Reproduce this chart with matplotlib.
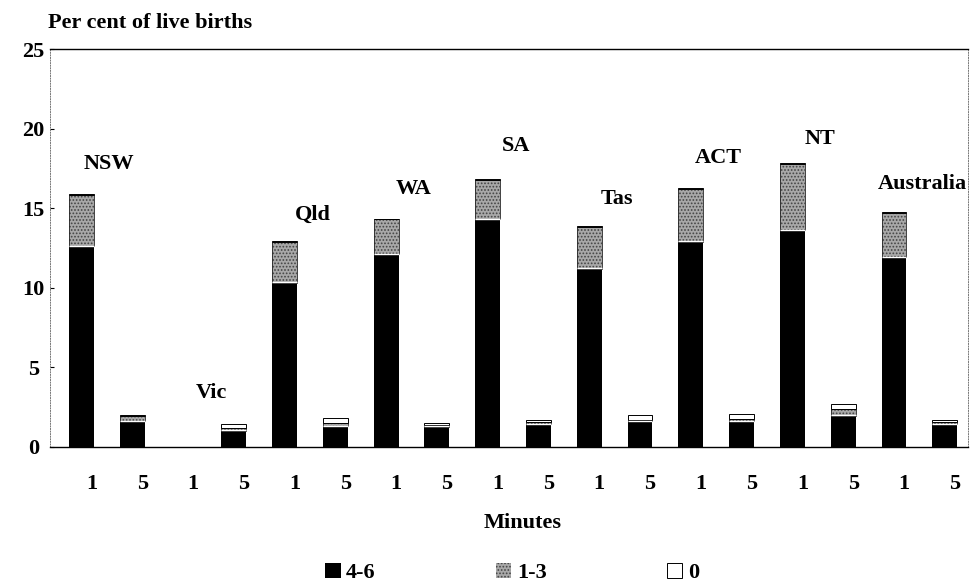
import matplotlib.pyplot as plt
import matplotlib.transforms as mtransforms
import numpy as np

# regions and Apgar score bands (per cent of live births)
regions = ['NSW', 'Vic', 'Qld', 'WA', 'SA', 'Tas', 'ACT', 'NT', 'Australia']
minutes = ['1', '5']

# order per region: 1 minute, 5 minutes
score_4_6 = [12.6, 1.6, 0.0, 1.0, 10.3, 1.3, 12.1, 1.25, 14.3, 1.4,
             11.2, 1.6, 12.9, 1.6, 13.6, 1.95, 11.9, 1.4]
score_1_3 = [3.2, 0.3, 0.0, 0.15, 2.6, 0.2, 2.2, 0.1, 2.5, 0.15,
             2.6, 0.1, 3.3, 0.15, 4.2, 0.4, 2.8, 0.15]
score_0 = [0.1, 0.1, 0.0, 0.25, 0.05, 0.3, 0.05, 0.15, 0.05, 0.1,
           0.05, 0.3, 0.05, 0.3, 0.05, 0.35, 0.05, 0.15]

# height of the region names above the axis
label_y = [17.8, 3.4, 14.6, 16.2, 18.9, 15.6, 18.15, 19.35, 16.5]

plt.rcParams['font.family'] = ['Liberation Serif', 'DejaVu Serif']
plt.rcParams['font.weight'] = 'bold'
plt.rcParams['hatch.color'] = '#444444'
plt.rcParams['hatch.linewidth'] = 0.8

fs = 16

fig = plt.figure(figsize=(9.72, 5.85), dpi=100)
ax = fig.add_axes([0.0514, 0.2364, 0.9446, 0.6796])

x = np.arange(len(score_4_6))
w = 0.49
a = np.array(score_4_6)
b = np.array(score_1_3)
c = np.array(score_0)

ax.bar(x, a, w, color='black', label='4-6')
ax.bar(x, b, w, bottom=a, facecolor='#a8a8a8', linewidth=0,
       hatch='.....', label='1-3')
# outline round the grey part, white seam on the black part
ax.bar(x, b, w, bottom=a, fill=False, edgecolor='#222222', linewidth=0.6)
ax.hlines(a[a > 0] + 0.03, x[a > 0] - w / 2, x[a > 0] + w / 2, color='white', linewidth=1.0)
ax.bar(x, c, w, bottom=a + b, color='white', edgecolor='black', linewidth=0.7, label='0')

for i, name in enumerate(regions):
    ax.text(2 * i + 0.55, label_y[i], name, ha='center', va='center', fontsize=fs, fontweight='bold')

ax.set_xlim(-0.62, 17.46)
ax.set_ylim(0, 25)
ax.set_yticks([0, 5, 10, 15, 20, 25])
ax.set_xticks(x)
ax.set_xticklabels(minutes * len(regions))
ax.tick_params(axis='x', length=0, labelsize=fs, pad=20)
ax.tick_params(axis='y', length=3, labelsize=fs, direction='in', pad=12)
for lab in ax.get_yticklabels():
    lab.set_horizontalalignment('center')
shift = mtransforms.ScaledTranslation(10 / 100, 0, fig.dpi_scale_trans)
for lab in ax.get_xticklabels():
    lab.set_transform(lab.get_transform() + shift)

for s in ['left', 'right']:
    ax.spines[s].set_linewidth(0.7)
    ax.spines[s].set_color('#777777')
    ax.spines[s].set_linestyle(':')
for s in ['top', 'bottom']:
    ax.spines[s].set_linewidth(1.0)

ax.set_xlabel('Minutes', fontsize=fs, fontweight='bold')
ax.xaxis.set_label_coords(0.515, -0.167)
fig.text(48 / 972, 1 - 23 / 585, 'Per cent of live births', fontsize=fs, fontweight='bold', va='center')

fig.legend(loc='center', bbox_to_anchor=(512 / 972, 1 - 573 / 585), ncol=3, frameon=False,
           fontsize=fs, columnspacing=5.4, handlelength=0.7, handleheight=0.7,
           handletextpad=0.25, borderpad=0)

fig.savefig('out.png', dpi=100)
